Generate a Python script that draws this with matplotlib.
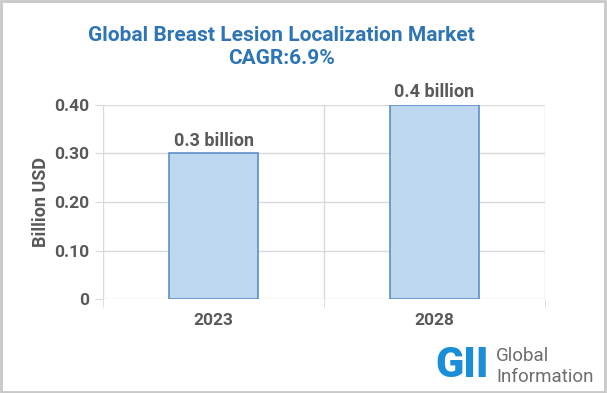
import matplotlib.pyplot as plt
from matplotlib.patches import Rectangle

years = ['2023', '2028']
values = [0.3, 0.4]
bar_labels = ['0.3 billion', '0.4 billion']
yticks = [0, 0.1, 0.2, 0.3, 0.4]
ytick_labels = ['0', '0.10', '0.20', '0.30', '0.40']

plt.rcParams['font.family'] = ['Roboto', 'DejaVu Sans']
text_gray = '#595959'

fig = plt.figure(figsize=(6.07, 3.93), dpi=100)
ax = fig.add_axes([0.1697, 0.239, 0.7282, 0.494])

x = range(len(years))
ax.bar(x, values, width=0.40, color='#bdd7ee', edgecolor='#5b8fc7', linewidth=1.2, zorder=3)
for xi, v, lab in zip(x, values, bar_labels):
    ax.text(xi, v + 0.008, lab, ha='center', va='bottom', fontsize=13,
            fontweight='bold', color=text_gray)

ax.set_xlim(-0.5, 1.5)
ax.set_ylim(0, 0.4)
ax.set_yticks(yticks)
ax.set_yticklabels(ytick_labels)
ax.set_xticks(list(x))
ax.set_xticklabels(years)
ax.set_xticks([-0.5, 0.5, 1.5], minor=True)
ax.grid(axis='y', color='#d9d9d9', linewidth=1, zorder=0)
ax.grid(axis='x', which='minor', color='#d9d9d9', linewidth=1, zorder=0)
for s in ax.spines.values():
    s.set_visible(False)
ax.tick_params(axis='y', length=6, color='#d9d9d9', labelsize=12.5, labelcolor=text_gray, pad=4)
ax.tick_params(axis='x', which='major', length=0, labelsize=12.5, labelcolor=text_gray, pad=10)
ax.tick_params(axis='x', which='minor', length=6, color='#d9d9d9')
for t in ax.get_xticklabels() + ax.get_yticklabels():
    t.set_fontweight('bold')
ax.set_ylabel('Billion USD', fontsize=13, fontweight='bold', color=text_gray, labelpad=3)

fig.text(0.463, 0.91, 'Global Breast Lesion Localization Market', ha='center', va='center',
         fontsize=15, fontweight='bold', color='#2e75b6')
fig.text(0.463, 0.85, 'CAGR:6.9%', ha='center', va='center',
         fontsize=15, fontweight='bold', color='#2e75b6')

# logo
fig.text(0.718, 0.07, 'GII', ha='left', va='center', fontsize=30, fontweight='black',
         color='#1a8fd8')
fig.text(0.817, 0.095, 'Global', ha='left', va='center', fontsize=13.5, color='#6d6d6d')
fig.text(0.817, 0.04, 'Information', ha='left', va='center', fontsize=13.5, color='#6d6d6d')

fig.patches.append(Rectangle((0.002, 0.003), 0.995, 0.994, transform=fig.transFigure,
                             fill=False, edgecolor='#c8c8c8', linewidth=2))

fig.savefig('out.png', dpi=100)
